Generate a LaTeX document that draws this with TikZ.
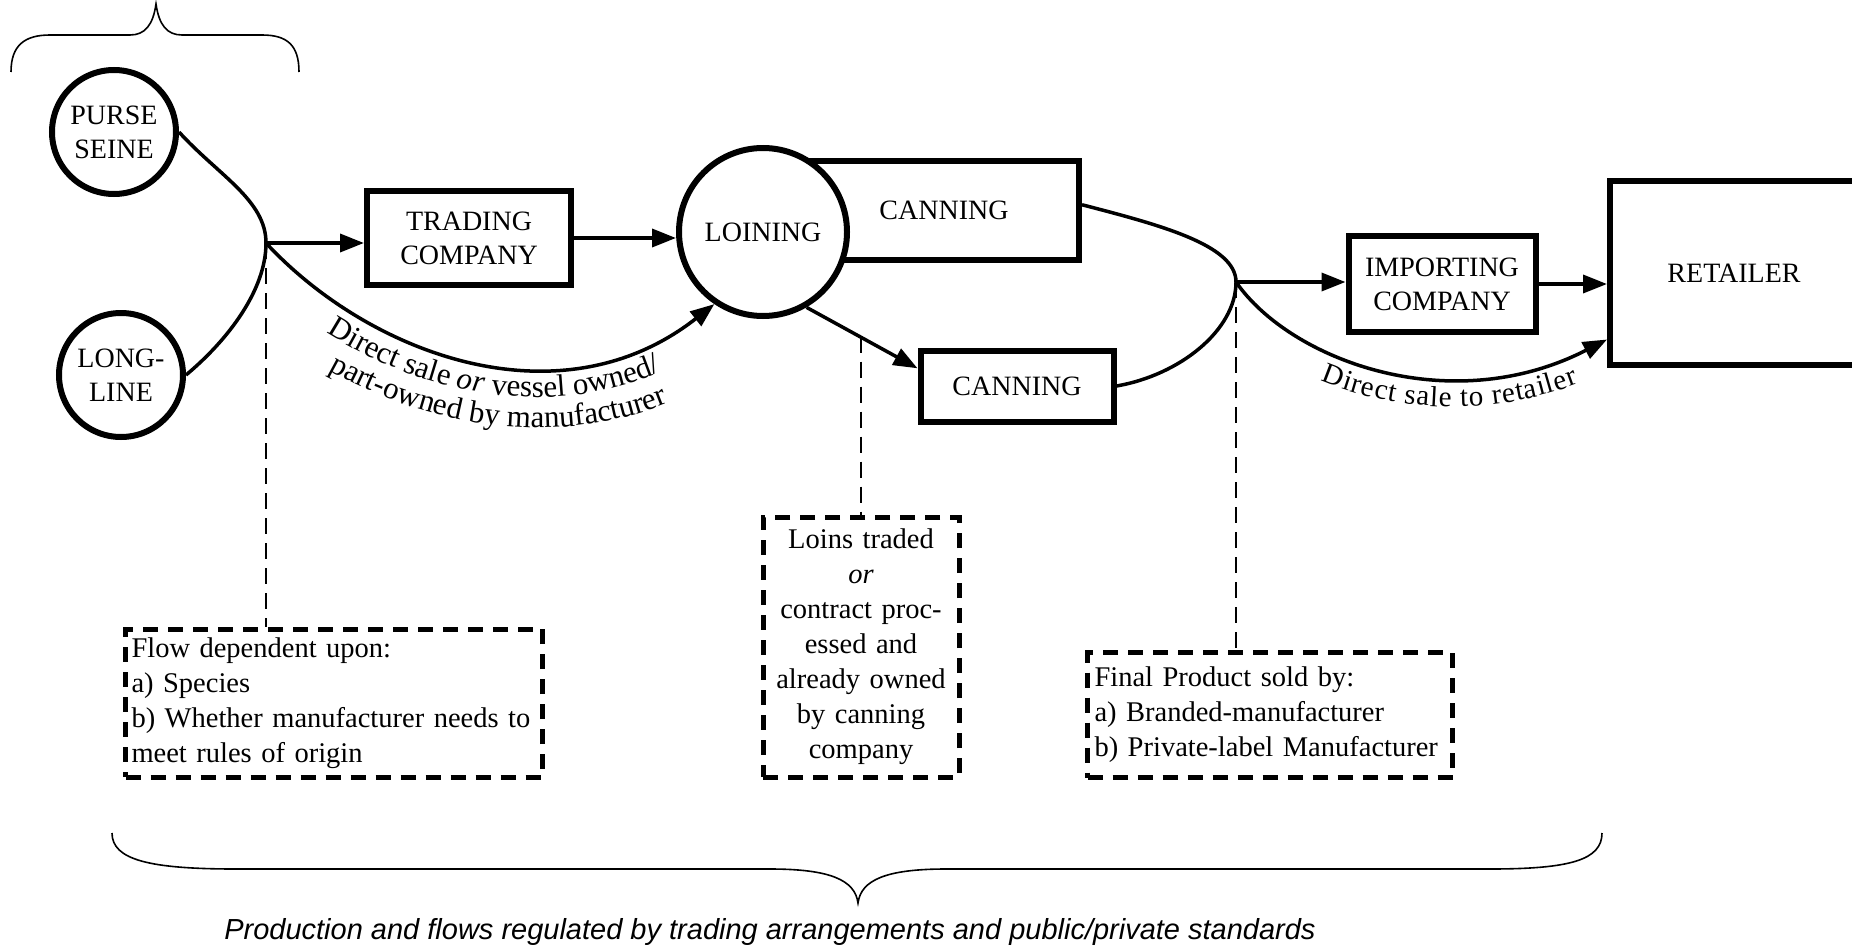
\documentclass[tikz,border=0pt]{standalone}
\usepackage{fontspec}
\setmainfont{Liberation Serif}
\newfontfamily\capfont{Liberation Sans}
\usetikzlibrary{arrows.meta,decorations.text,calc}
\newcommand\nodefont{\fontsize{28pt}{34pt}\selectfont}
\newcommand\notefont{\fontsize{28.5pt}{35pt}\selectfont}
\newcommand\lblfont{\fontsize{29pt}{34pt}\selectfont}
\newcommand\arcfont{\fontsize{31pt}{34pt}\selectfont}
\begin{document}
\begin{tikzpicture}[x=1pt,y=-1pt,
  conn/.style={line width=3.5pt},
  arr/.style={conn,-{Triangle[length=24pt,width=18pt]}},
  boxnode/.style={draw,line width=6pt,rectangle,inner sep=0pt,fill=white,font=\nodefont,align=center},
  circnode/.style={draw,line width=6pt,circle,inner sep=0pt,fill=white,font=\nodefont,align=center},
  notebox/.style={draw,line width=5pt,dash pattern=on 15pt off 10pt,font=\notefont},
  guide/.style={line width=2pt,dash pattern=on 16pt off 9pt},
  brace/.style={line width=1.6pt}]
\useasboundingbox (0,0) rectangle (1852,950);
\clip (0,0) rectangle (1852,950);

% fishing methods
\node[circnode,minimum size=124pt] (ps) at (114,132) {PURSE\\SEINE};
\node[circnode,minimum size=124pt] (ll) at (121,375) {LONG-\\LINE};

% processing chain
\node[boxnode,minimum width=204pt,minimum height=94pt] (tc) at (469,238) {TRADING\\COMPANY};
\node[boxnode,minimum width=270pt,minimum height=99pt] (cant) at (944,210) {CANNING};
\node[circnode,minimum size=168pt] (loin) at (763,232) {LOINING};
\node[boxnode,minimum width=193pt,minimum height=71pt] (cb) at (1017,386) {CANNING};
\node[boxnode,minimum width=187pt,minimum height=96pt] (imp) at (1442,284) {IMPORTING\\COMPANY};
\node[boxnode,minimum width=248pt,minimum height=184pt] (ret) at (1734,273) {RETAILER};

% branch points
\coordinate (j1) at (266,243);
\coordinate (j2) at (1236,282);

% flows
\draw[conn] (ps.east) .. controls (218,175) and (266,200) .. (j1)
            .. controls (266,290) and (228,340) .. (ll.east);
\draw[arr] (j1) -- (j1 -| tc.west);
\draw[arr] (tc.east) -- (tc.east -| loin.west);
\draw[arr] (j1) .. controls (370,355) and (560,425) .. (loin.236);
\draw[arr] (loin.-60) -- ($(cb.north west)!0.27!(cb.south west)$);
\draw[conn] ($(cant.north east)!0.45!(cant.south east)$) .. controls (1160,225) and (1236,245) .. (j2)
            .. controls (1236,330) and (1180,375) .. (cb.east);
\draw[arr] (j2) -- (j2 -| imp.west);
\draw[arr] (imp.east) -- (imp.east -| ret.west);
\draw[arr] (j2) .. controls (1290,360) and (1450,420) .. ($(ret.south west)!0.15!(ret.north west)$);

% curved labels, set on curves running parallel below the flows
\path[decorate,decoration={text along path,text align={left indent=108pt},
  text={|\arcfont|Direct sale |\arcfont\itshape|or|\arcfont| vessel owned/}}]
  ($(j1)+(-22.6,21.1)$) .. controls (352.9,381.8) and (565.1,460.1) .. ($(loin.236)+(18.9,24.5)$);
\path[decorate,decoration={text along path,text align={left indent=138pt},
  text={|\arcfont|part-owned by manufacturer}}]
  ($(j1)+(-46,42.8)$) .. controls (335.2,409.5) and (570.5,496.3) .. ($(loin.236)+(38.4,49.8)$);
\path[decorate,decoration={text along path,raise=-29pt,text align={left indent=120pt},
  text={|\lblfont|Direct sale to retailer}}]
  (j2) .. controls (1290,360) and (1450,420) .. ($(ret.south west)!0.15!(ret.north west)$);

% notes
\node[notebox,text width=405pt,inner xsep=6pt,minimum height=148pt,align=left] (n1) at (334,703)
  {Flow dependent upon:\\a) Species\\b) Whether manufacturer needs to\\meet rules of origin};
\node[notebox,text width=184pt,inner xsep=6pt,minimum height=260pt,align=center] (n2) at (861,647)
  {Loins traded\\\textit{or}\\contract proc-\\essed and\\already owned\\by canning\\company};
\node[notebox,text width=351pt,inner xsep=7pt,minimum height=125pt,align=left] (n3) at (1270,715)
  {Final Product sold by:\\a) Branded-manufacturer\\b) Private-label Manufacturer};

\coordinate (lt) at ($(n2.north)+(0,-178)$);
\draw[guide] (j1) -- (j1 |- n1.north);
\draw[guide] (lt) -- (lt |- n2.north);
\draw[guide] (j2) -- (j2 |- n3.north);

% braces
\draw[brace] (11,72) .. controls (11,45) and (25,35) .. (50,35) -- (130,35)
  .. controls (145,35) and (153,25) .. (156,4) .. controls (159,25) and (167,35) .. (182,35)
  -- (262,35) .. controls (287,35) and (299,45) .. (299,72);
\draw[brace] (112,833) .. controls (112,860) and (150,869) .. (236,869) -- (770,869)
  .. controls (830,869) and (855,880) .. (858,903) .. controls (861,880) and (886,869) .. (946,869)
  -- (1490,869) .. controls (1570,869) and (1602,860) .. (1602,833);

\node[font={\capfont\itshape\fontsize{29pt}{34pt}\selectfont}] (cap) at (770,932)
  {Production and flows regulated by trading arrangements and public/private standards};
\end{tikzpicture}
\end{document}
